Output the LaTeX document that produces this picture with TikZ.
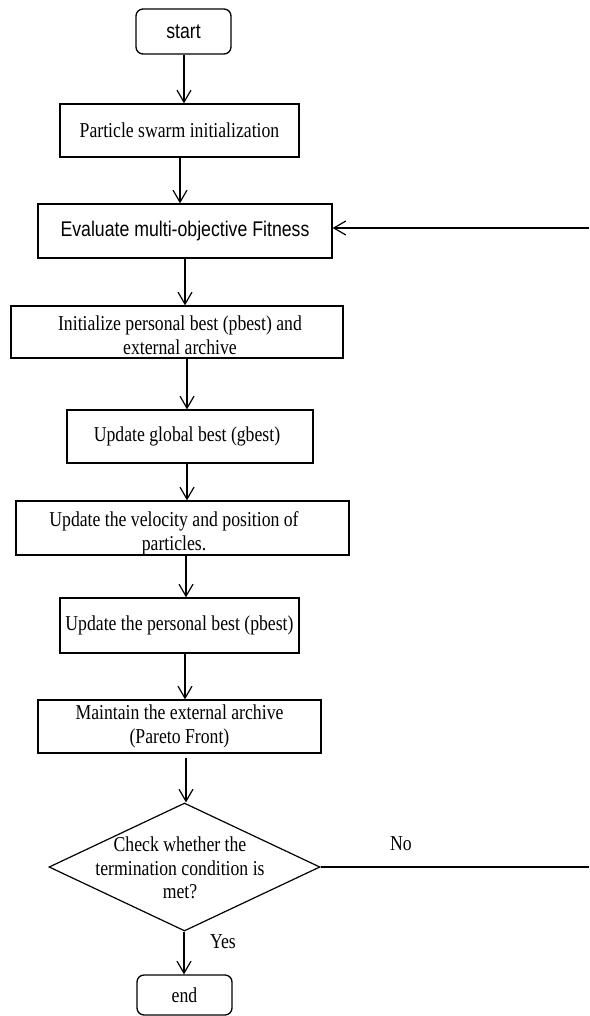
\documentclass[tikz,border=0pt]{standalone}
\usepackage{fontspec}
\setmainfont{Liberation Serif}[FakeStretch=0.835]
\newfontfamily\arialfont{Liberation Sans}[FakeStretch=0.835]
\usetikzlibrary{arrows.meta,shapes.geometric}

\tikzset{
  box/.style={draw, rectangle, line width=1.3pt, inner sep=0pt, align=center,
    font=\fontsize{21.2}{24}\selectfont},
  roundbox/.style={box, rounded corners=7pt},
  txt/.style={inner sep=0pt, align=center, font=\fontsize{21.2}{23.5}\selectfont},
  flow/.style={line width=1.2pt, -{Straight Barb[length=12pt,width=14pt,line width=1.2pt]}},
  plain/.style={line width=1.2pt}
}

\begin{document}
\begin{tikzpicture}[x=1pt,y=-1pt]
\useasboundingbox (0,0) rectangle (589,1016);

% process steps
\node[roundbox, minimum width=95, minimum height=45] (start) at (183.5,31.5) {\arialfont start};
\node[box, minimum width=239, minimum height=53] (init) at (179.5,130.5) {Particle swarm initialization};
\node[box, minimum width=294, minimum height=54] (eval) at (185,231) {\arialfont Evaluate multi-objective Fitness};
\node[box, minimum width=332, minimum height=52] (pinit) at (177,332) {};
\node[txt] (pinitt) at (180,335) {Initialize personal best (pbest) and\\external archive};
\node[box, minimum width=246, minimum height=53] (gbest) at (190,436.5) {};
\node[txt] (gbestt) at (187,436) {Update global best (gbest)};
\node[box, minimum width=333, minimum height=54] (vel) at (182.5,528) {};
\node[txt] (velt) at (174,533.5) {Update the velocity and position of\\particles.};
\node[box, minimum width=239, minimum height=55] (pbest) at (179.5,625.5) {Update the personal best (pbest)};
\node[box, minimum width=283, minimum height=53] (arch) at (179.5,726.5) {Maintain the external archive\\(Pareto Front)};

% decision
\node[diamond, draw, line width=1.2pt, minimum width=271, minimum height=128, inner sep=0pt] (check) at (184.5,867) {};
\node[txt] (checkt) at (180,868) {Check whether the\\termination condition is\\met?};

\node[roundbox, minimum width=95, minimum height=40] (end) at (184.5,995) {end};

% loop ends at the right margin
\coordinate (noend) at (589,867);
\coordinate (back) at (589,228);

% connectors
\draw[flow] ([xshift=0.5pt]start.south) -- ([xshift=0.5pt]start.south |- init.north);
\draw[flow] ([xshift=0.5pt]init.south) -- ([xshift=0.5pt]init.south |- eval.north);
\draw[flow] (eval.south) -- (eval.south |- pinit.north);
\draw[flow] ([xshift=-3pt]gbest.north |- pinit.south) -- ([xshift=-3pt]gbest.north);
\draw[flow] ([xshift=-3pt]gbest.south) -- ([xshift=-3pt]gbest.south |- vel.north);
\draw[flow] ([xshift=3.5pt]vel.south) -- ([xshift=3.5pt]vel.south |- pbest.north);
\draw[flow] ([xshift=5.5pt]pbest.south) -- ([xshift=5.5pt]pbest.south |- arch.north);
\draw[flow] ([xshift=1.5pt,yshift=-4pt]check.north |- arch.south) -- ([xshift=1.5pt]check.north);
\draw[flow] ([xshift=-0.5pt]check.south) -- ([xshift=-0.5pt]check.south |- end.north);
\draw[plain] (check.east) -- (noend);
\draw[flow] (back) -- (back -| eval.east);

% branch labels
\node[txt] (nolab) at (401,844) {No};
\node[txt] (yeslab) at (223,942) {Yes};
\end{tikzpicture}
\end{document}
